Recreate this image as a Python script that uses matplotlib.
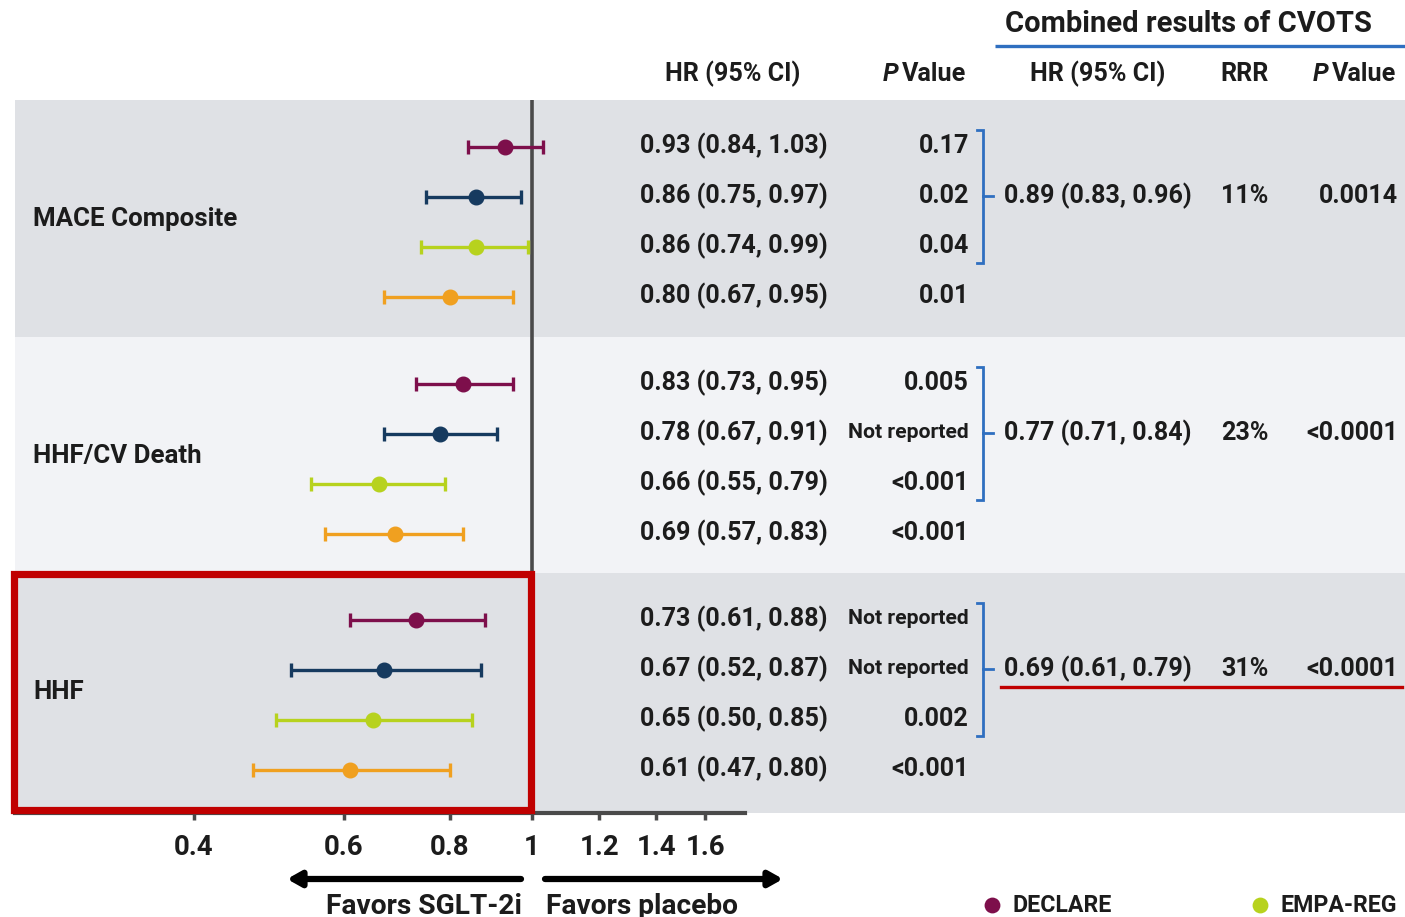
import matplotlib
matplotlib.use("Agg")
import matplotlib.pyplot as plt
from matplotlib import font_manager
from matplotlib.patches import Rectangle


GROUPS = ["MACE Composite", "HHF/CV Death", "HHF"]
TRIALS = ["DECLARE", "CANVAS", "EMPA-REG", "CREDENCE"]
COLORS = ["#7d0f4b", "#163a5f", "#b7d21e", "#f0a020"]

HR = [
    [0.93, 0.86, 0.86, 0.80],
    [0.83, 0.78, 0.66, 0.69],
    [0.73, 0.67, 0.65, 0.61],
]
CI_LOW = [
    [0.84, 0.75, 0.74, 0.67],
    [0.73, 0.67, 0.55, 0.57],
    [0.61, 0.52, 0.50, 0.47],
]
CI_HIGH = [
    [1.03, 0.97, 0.99, 0.95],
    [0.95, 0.91, 0.79, 0.83],
    [0.88, 0.87, 0.85, 0.80],
]
P_VALUES = [
    ["0.17", "0.02", "0.04", "0.01"],
    ["0.005", "Not reported", "<0.001", "<0.001"],
    ["Not reported", "Not reported", "0.002", "<0.001"],
]

COMBINED_HR = ["0.89 (0.83, 0.96)", "0.77 (0.71, 0.84)", "0.69 (0.61, 0.79)"]
COMBINED_RRR = ["11%", "23%", "31%"]
COMBINED_P = ["0.0014", "<0.0001", "<0.0001"]

X_TICKS = [0.4, 0.6, 0.8, 1, 1.2, 1.4, 1.6]
X_TICK_LABELS = ["0.4", "0.6", "0.8", "1", "1.2", "1.4", "1.6"]

LEGEND_TRIALS = ["DECLARE", "EMPA-REG"]


# layout (pixel units of the 1405 x 917 canvas)
W, H = 1405, 917
BAND_TOPS = [100, 337, 573]
BAND_BOTTOM = 813
BAND_COLORS = ["#dfe1e5", "#f2f3f6", "#dfe1e5"]
PLOT_LEFT, PLOT_RIGHT = 15, 745
X_MIN, X_MAX = 0.2463, 1.781
TEXT = "#1c1c1c"
BLUE = "#2f6fc0"
RED = "#c00000"


def row_y(g, r):
    return BAND_TOPS[g] + 46 + 50 * r


def is_bold(weight):
    if isinstance(weight, str):
        return weight.lower() in ("bold", "semibold", "demibold", "heavy", "extra bold", "black")
    return weight >= 600


bold_names = {f.name for f in font_manager.fontManager.ttflist if is_bold(f.weight)}
FONT = "DejaVu Sans"
for name in ["Noto Sans CJK KR", "Roboto", "Lato", "Open Sans", "Inter",
             "Noto Sans", "Liberation Sans"]:
    if name in bold_names:
        FONT = name
        break

plt.rcParams["font.family"] = [FONT, "DejaVu Sans"]
plt.rcParams["font.weight"] = "bold"

fig = plt.figure(figsize=(W / 100, H / 100), dpi=100)

# scale the font so a table entry has the reference width (188 px)
renderer = fig.canvas.get_renderer()
probe = fig.text(0, 0, "0.93 (0.84, 1.03)", fontsize=20)
TABLE = 20 * 188 / probe.get_window_extent(renderer).width
probe.remove()
GROUP_SIZE = TABLE * 1.03
NR_SIZE = TABLE * 0.84
TICK_SIZE = TABLE * 1.1
FAVORS_SIZE = TABLE * 1.12
LEGEND_SIZE = TABLE * 0.92
HEADER_SIZE = TABLE * 1.16

# background bands
bg = fig.add_axes([0, 0, 1, 1], zorder=0)
bg.set_xlim(0, W)
bg.set_ylim(H, 0)
bg.axis("off")

band_edges = BAND_TOPS + [BAND_BOTTOM]
for i, color in enumerate(BAND_COLORS):
    bg.add_patch(
        Rectangle(
            (PLOT_LEFT, band_edges[i]),
            W - PLOT_LEFT,
            band_edges[i + 1] - band_edges[i],
            color=color,
            lw=0,
        )
    )

# forest plot
fa = fig.add_axes(
    [
        PLOT_LEFT / W,
        (H - BAND_BOTTOM) / H,
        (PLOT_RIGHT - PLOT_LEFT) / W,
        (BAND_BOTTOM - BAND_TOPS[0]) / H,
    ],
    zorder=1,
)
fa.patch.set_alpha(0)
fa.set_xscale("log")
fa.set_xlim(X_MIN, X_MAX)
fa.set_ylim(BAND_BOTTOM, BAND_TOPS[0])

for s in ["top", "left", "right"]:
    fa.spines[s].set_visible(False)
fa.spines["bottom"].set_color("#4a4a4a")
fa.spines["bottom"].set_linewidth(3)

fa.set_xticks(X_TICKS)
fa.set_xticklabels(X_TICK_LABELS)
fa.minorticks_off()
fa.tick_params(
    axis="x",
    length=5,
    width=2.5,
    color="#4a4a4a",
    pad=10,
    labelsize=TICK_SIZE,
    labelcolor=TEXT,
)
fa.set_yticks([])

fa.axvline(1, color="#4a4a4a", lw=2.6, zorder=2)

for g in range(len(GROUPS)):
    for r in range(len(TRIALS)):
        y = row_y(g, r) + 1
        fa.errorbar(
            HR[g][r],
            y,
            xerr=[[HR[g][r] - CI_LOW[g][r]], [CI_HIGH[g][r] - HR[g][r]]],
            fmt="o",
            color=COLORS[r],
            ms=10.5,
            elinewidth=2.4,
            capsize=5,
            capthick=2.4,
            zorder=3,
        )

# text, brackets and annotations on top
top = fig.add_axes([0, 0, 1, 1], zorder=2)
top.patch.set_alpha(0)
top.set_xlim(0, W)
top.set_ylim(H, 0)
top.axis("off")


def p_value_header(x_right, y):
    value = top.text(x_right, y, "Value", ha="right", va="center",
                     fontsize=TABLE, color=TEXT)
    top.annotate("P", xy=(0, 0.5), xycoords=value, xytext=(-2, 0),
                 textcoords="offset points", ha="right", va="center",
                 fontsize=TABLE, color=TEXT, style="italic")


# headers
top.text(1188, 24, "Combined results of CVOTS", ha="center", va="center",
         fontsize=HEADER_SIZE, color=TEXT)
top.plot([995, W], [46, 46], color=BLUE, lw=2.4, solid_capstyle="butt")

top.text(733, 74, "HR (95% CI)", ha="center", va="center", fontsize=TABLE, color=TEXT)
p_value_header(966, 74)
top.text(1098, 74, "HR (95% CI)", ha="center", va="center", fontsize=TABLE, color=TEXT)
top.text(1245, 74, "RRR", ha="center", va="center", fontsize=TABLE, color=TEXT)
p_value_header(1396, 74)

for g, group in enumerate(GROUPS):
    top.text(33, row_y(g, 1.5) - 2, group, ha="left", va="center",
             fontsize=GROUP_SIZE, color=TEXT)

    for r in range(len(TRIALS)):
        y = row_y(g, r)
        label = f"{HR[g][r]:.2f} ({CI_LOW[g][r]:.2f}, {CI_HIGH[g][r]:.2f})"
        top.text(828, y, label, ha="right", va="center", fontsize=TABLE, color=TEXT)
        p = P_VALUES[g][r]
        size = NR_SIZE if p == "Not reported" else TABLE
        top.text(969, y, p, ha="right", va="center", fontsize=size, color=TEXT)

    # bracket over the first three trials
    y0 = row_y(g, 0) - 16
    y1 = row_y(g, 2) + 17
    ym = row_y(g, 1)
    top.plot([977, 983, 983, 977], [y0, y0, y1, y1], color=BLUE, lw=2,
             solid_joinstyle="miter")
    top.plot([983, 993], [ym, ym], color=BLUE, lw=2)

    top.text(1098, ym, COMBINED_HR[g], ha="center", va="center",
             fontsize=TABLE, color=TEXT)
    top.text(1245, ym, COMBINED_RRR[g], ha="center", va="center",
             fontsize=TABLE, color=TEXT)
    top.text(1398, ym, COMBINED_P[g], ha="right", va="center",
             fontsize=TABLE, color=TEXT)

# highlight for HHF
top.add_patch(
    Rectangle((14, 574), 517, 236, fill=False, edgecolor=RED, lw=5.2,
              joinstyle="miter")
)
top.plot([1001, 1402], [687, 687], color=RED, lw=2.4)

# direction arrows
arrow_style = dict(arrowstyle="-|>,head_width=0.45,head_length=0.8",
                   color="black", lw=4.5, shrinkA=0, shrinkB=0)
top.annotate("", xy=(287, 879), xytext=(521, 879), arrowprops=arrow_style)
top.annotate("", xy=(783, 879), xytext=(545, 879), arrowprops=arrow_style)
top.text(424, 906, "Favors SGLT-2i", ha="center", va="center",
         fontsize=FAVORS_SIZE, color=TEXT)
top.text(642, 906, "Favors placebo", ha="center", va="center",
         fontsize=FAVORS_SIZE, color=TEXT)

# legend
legend_x = [992, 1260]
for x, name in zip(legend_x, LEGEND_TRIALS):
    top.scatter([x], [905], s=130, color=COLORS[TRIALS.index(name)], lw=0)
    top.text(x + 20, 906, name, ha="left", va="center",
             fontsize=LEGEND_SIZE, color=TEXT)

fig.savefig("out.png", dpi=100)
